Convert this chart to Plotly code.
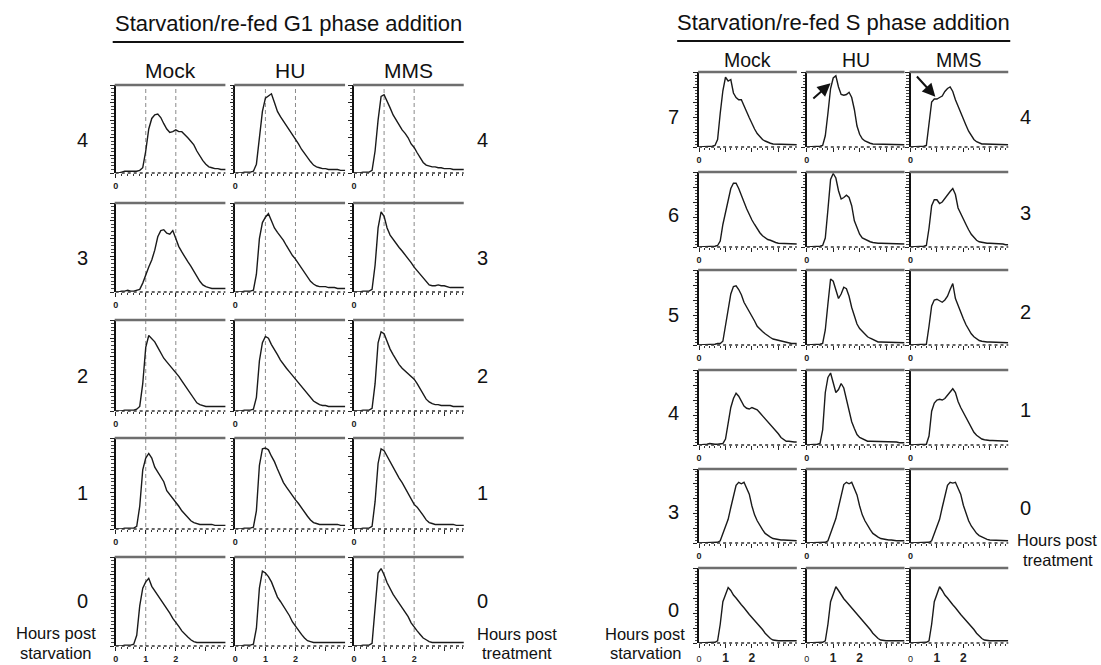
import plotly.graph_objects as go

# ---------------- data ----------------
# DNA-content axis (arbitrary units, 1 = G1 peak, 2 = G2 peak)
X_GRID = [0.0, 0.1, 0.2, 0.3, 0.4, 0.5, 0.6, 0.7, 0.8, 0.9,
          1.0, 1.1, 1.2, 1.3, 1.4, 1.5, 1.6, 1.7, 1.8, 1.9,
          2.0, 2.1, 2.2, 2.3, 2.4, 2.5, 2.6, 2.7, 2.8, 2.9,
          3.0, 3.1, 3.2, 3.3, 3.4, 3.5, 3.6, 3.7]

TREATMENTS = ["Mock", "HU", "MMS"]
G1_TITLE = "Starvation/re-fed G1 phase addition"
S_TITLE = "Starvation/re-fed S phase addition"
G1_HOURS_STARVATION = ["4", "3", "2", "1", "0"]
G1_HOURS_TREATMENT = ["4", "3", "2", "1", "0"]
S_HOURS_STARVATION = ["7", "6", "5", "4", "3", "0"]
S_HOURS_TREATMENT = ["4", "3", "2", "1", "0"]
X_TICK_VALUES = [0, 1, 2, 3]
X_TICK_LABELS = ["0", "1", "2", ""]

# G1 phase addition (cell counts, % of frame height)
g1_mock_4 = [0,0,1,2,2,2,2,2,3,6, 25,50,62,66,67,63,56,50,46,47, 49,47,47,44,40,36,32,25,19,14, 10,7,6,5,5,4,4,4]
g1_hu_4   = [0,0,0,1,1,1,2,10,40,70, 85,88,90,80,70,64,59,53,48,43, 38,33,27,22,17,13,9,7,6,5, 5,4,4,4,4,3,3,3]
g1_mms_4  = [0,0,0,1,1,1,3,25,60,87, 89,82,74,66,60,54,49,45,40,33, 29,23,18,12,9,8,7,7,6,6, 5,5,5,4,4,4,4,4]

g1_mock_3 = [0,0,1,1,2,1,1,2,3,10, 20,28,36,47,62,69,70,66,65,69, 60,51,45,39,34,29,23,17,12,8, 6,5,4,4,4,4,4,4]
g1_hu_3   = [0,0,0,1,1,1,2,20,60,78, 84,88,80,72,67,63,58,52,46,41, 37,32,26,21,16,12,9,7,6,6, 6,5,5,5,4,4,4,4]
g1_mms_3  = [0,0,0,1,1,1,3,30,72,90, 85,72,64,59,55,50,46,42,38,33, 28,24,19,15,11,8,7,7,8,7, 7,6,5,5,5,5,5,5]

g1_mock_2 = [0,0,0,1,1,1,1,2,5,30, 70,83,80,76,70,64,58,54,50,47, 43,38,33,28,23,18,13,9,7,6, 5,5,5,5,5,5,5,5]
g1_hu_2   = [0,0,0,1,1,1,2,15,55,75, 82,80,73,68,62,56,51,47,43,39, 35,31,26,22,18,14,11,9,7,6, 6,5,5,5,5,5,5,5]
g1_mms_2  = [0,0,0,1,1,1,3,30,75,87, 85,76,68,62,56,51,47,44,41,38, 35,30,24,18,13,10,8,7,7,6, 6,6,6,5,5,5,5,5]

g1_mock_1 = [0,0,0,1,1,1,1,3,25,65, 78,83,78,68,63,58,52,42,38,34, 29,25,20,16,12,9,7,6,5,5, 5,5,5,4,4,4,4,4]
g1_hu_1   = [0,0,0,1,1,1,2,20,70,88, 89,87,80,74,66,58,51,46,41,36, 32,28,23,18,14,10,7,6,5,5, 5,5,5,5,5,4,4,4]
g1_mms_1  = [0,0,0,1,1,1,3,30,72,88, 86,80,73,67,62,56,51,45,38,32, 27,24,20,15,10,7,6,5,5,5, 5,5,5,5,4,4,4,4]

g1_mock_0 = [0,0,0,1,1,1,2,12,45,65, 72,76,67,62,58,53,48,43,37,31, 27,22,17,13,10,7,5,4,4,4, 4,4,4,4,4,4,4,4]
g1_hu_0   = [0,0,0,1,1,1,2,20,65,84, 82,78,72,63,55,50,45,40,34,27, 22,17,13,9,6,5,4,4,4,4, 4,4,4,4,4,4,4,4]
g1_mms_0  = [0,0,0,1,1,1,3,45,82,87, 80,71,64,58,53,48,43,37,33,26, 21,17,13,9,7,5,4,4,4,4, 4,4,4,4,4,4,4,4]

# S phase addition
s_mock_7 = [0,0,1,1,1,1,2,10,45,75, 93,88,90,72,66,63,63,56,47,39, 31,24,18,14,10,8,6,5,4,4, 4,4,3,3,3,3,3,3]
s_hu_7   = [0,0,1,1,1,1,2,15,45,78, 92,95,80,70,69,70,73,66,50,28, 17,11,8,6,5,4,4,4,4,4, 4,3,3,3,3,3,3,3]
s_mms_7  = [0,0,1,1,1,1,2,30,60,64, 64,66,68,74,78,80,74,63,54,45, 37,29,21,15,10,7,5,4,4,4, 4,3,3,3,3,3,3,3]

s_mock_6 = [0,0,1,1,1,1,1,2,8,30, 47,65,78,85,85,78,70,60,51,43, 36,30,24,19,15,12,10,9,7,6, 5,5,5,4,4,4,4,4]
s_hu_6   = [0,0,1,1,1,1,2,12,50,90, 98,92,75,64,66,69,66,55,35,25, 17,12,10,8,7,6,5,5,5,5, 4,4,4,4,4,4,4,4]
s_mms_6  = [0,0,1,1,1,1,2,25,55,63, 63,58,60,65,70,74,78,70,52,44, 36,30,23,17,13,9,7,6,5,5, 5,5,4,4,4,4,3,3]

s_mock_5 = [0,0,1,1,1,1,1,2,2,5, 25,50,68,78,79,74,67,57,51,44, 38,32,25,21,18,15,12,10,8,7, 6,5,4,3,3,2,2,2]
s_hu_5   = [0,0,1,1,1,1,2,20,55,88, 85,72,62,68,77,75,65,50,40,28, 22,18,14,11,9,7,5,4,4,4, 4,4,4,3,3,3,3,3]
s_mms_5  = [0,0,1,1,1,1,1,25,52,60, 61,59,57,60,65,74,82,62,52,42, 35,27,20,15,11,8,6,5,4,4, 4,4,4,4,3,3,3,3]

s_mock_4 = [0,0,1,1,2,1,1,1,1,2, 8,30,50,62,69,65,58,52,49,48, 50,48,47,43,39,35,31,28,24,19, 15,10,7,5,5,4,4,4]
s_hu_4   = [0,0,1,1,1,2,20,70,90,96, 82,70,74,82,76,60,45,31,22,14, 10,8,6,5,5,5,4,4,4,4, 4,4,4,4,4,3,3,3]
s_mms_4  = [0,0,1,1,1,1,1,12,45,56, 60,61,60,62,66,70,75,70,58,50, 43,36,29,23,17,13,10,8,7,6, 6,6,6,6,5,5,5,5]

s_mock_3 = [0,0,1,1,1,1,1,1,3,12, 22,32,48,64,78,82,80,82,75,66, 50,38,30,23,18,13,10,8,6,5, 4,4,4,4,3,3,3,3]
s_hu_3   = [0,0,1,1,1,1,1,1,3,12, 23,33,49,65,79,82,80,82,74,65, 50,38,30,23,18,13,10,8,6,5, 4,4,4,3,3,3,3,3]
s_mms_3  = [0,0,1,1,1,1,1,1,3,12, 22,32,48,64,78,82,81,82,75,66, 51,39,30,23,18,13,10,8,6,5, 4,4,4,4,3,3,3,3]

s_mock_0 = [0,0,1,1,1,1,1,3,25,55, 66,74,70,64,60,55,51,47,42,38, 34,30,27,23,18,13,9,6,4,3, 3,3,3,3,3,3,3,3]
s_hu_0   = [0,0,1,1,1,1,1,3,25,55, 66,75,70,64,59,55,51,47,42,38, 34,30,27,23,18,13,9,6,4,3, 3,3,3,3,3,3,3,3]
s_mms_0  = [0,0,1,1,1,1,1,3,25,55, 66,75,70,64,60,55,51,47,42,38, 34,30,26,23,18,13,9,6,4,3, 3,3,3,3,3,3,3,3]

G1_CURVES = [
    [g1_mock_4, g1_hu_4, g1_mms_4],
    [g1_mock_3, g1_hu_3, g1_mms_3],
    [g1_mock_2, g1_hu_2, g1_mms_2],
    [g1_mock_1, g1_hu_1, g1_mms_1],
    [g1_mock_0, g1_hu_0, g1_mms_0],
]
S_CURVES = [
    [s_mock_7, s_hu_7, s_mms_7],
    [s_mock_6, s_hu_6, s_mms_6],
    [s_mock_5, s_hu_5, s_mms_5],
    [s_mock_4, s_hu_4, s_mms_4],
    [s_mock_3, s_hu_3, s_mms_3],
    [s_mock_0, s_hu_0, s_mms_0],
]

# ---------------- layout helpers (pixels of a 1101x665 page) ----------------
W, H = 1101, 665
FONT = "Liberation Sans, Arial, Helvetica, sans-serif"
INK = "#111111"


def px(x):
    return x / W


def py(y):
    return 1 - y / H


G1_COL_X = [113, 233, 352]
G1_COL_W = 110
G1_ROW_TOP = [85, 203, 320, 438, 557]
G1_ROW_BOT = [173, 292, 411, 529, 646]
G1_XMAX = 3.65

S_COL_X = [698, 806, 910]
S_COL_W = 98
S_ROW_TOP = [72, 172, 270, 370, 469, 568]
S_ROW_BOT = [147, 247, 345, 445, 543, 643]
S_XMAX = 3.7

fig = go.Figure()
layout = dict(
    width=W, height=H, margin=dict(l=0, r=0, t=0, b=0),
    paper_bgcolor="white", plot_bgcolor="rgba(0,0,0,0)",
    showlegend=False, font=dict(family=FONT, color=INK),
)
shapes = []
annotations = []
axis_counter = [0]


def ax_names(n):
    if n == 1:
        return "xaxis", "yaxis", "x", "y"
    return f"xaxis{n}", f"yaxis{n}", f"x{n}", f"y{n}"


def add_cell(x0, w, top, bot, xmax, curve, bottom_row, big_labels):
    axis_counter[0] += 1
    n = axis_counter[0]
    xa, ya, xr, yr = ax_names(n)
    if bottom_row:
        if big_labels:
            ttext = ["<span style='font-size:9px'>0</span>", "<b>1</b>", "<b>2</b>", ""]
        else:
            ttext = ["<b>0</b>", "<b>1</b>", "<b>2</b>", ""]
    else:
        ttext = ["<b>0</b>", "", "", ""]
    layout[xa] = dict(
        domain=[px(x0), px(x0 + w)], anchor=yr, range=[0, xmax],
        showgrid=False, zeroline=False, showline=False,
        ticks="outside", tickmode="array", tickvals=X_TICK_VALUES, ticktext=ttext,
        ticklen=4, tickwidth=1.3, tickcolor="#222",
        tickfont=dict(size=12 if (bottom_row and big_labels) else 9, color="#222", family=FONT),
        minor=dict(ticks="outside", tickmode="linear", tick0=0, dtick=0.2,
                   ticklen=2, tickwidth=1.3, tickcolor="#333"),
        fixedrange=True,
    )
    layout[ya] = dict(
        domain=[py(bot), py(top)], anchor=xr, range=[0, 100],
        showgrid=False, zeroline=False, showline=True, linecolor=INK, linewidth=1.6,
        ticks="outside", tickmode="array", tickvals=[0, 20, 40, 60, 80, 100],
        ticklen=4, tickwidth=1.3, tickcolor="#222", showticklabels=False,
        minor=dict(ticks="outside", tickmode="linear", tick0=0, dtick=4,
                   ticklen=2.5, tickwidth=1, tickcolor="#444"),
        fixedrange=True,
    )
    fig.add_trace(go.Scatter(
        x=X_GRID, y=curve, mode="lines", xaxis=xr, yaxis=yr,
        line=dict(color="#1a1a1a", width=1.4), hoverinfo="skip",
    ))
    # dotted baseline
    shapes.append(dict(type="line", xref="paper", yref="paper",
                       x0=px(x0), x1=px(x0 + w), y0=py(bot), y1=py(bot),
                       line=dict(color="#333", width=1.3, dash="dot")))
    # grey frame top
    shapes.append(dict(type="line", xref="paper", yref="paper",
                       x0=px(x0 - 1), x1=px(x0 + w), y0=py(top), y1=py(top),
                       line=dict(color="#6e6e6e", width=2.5)))
    return n


def text(x, y, s, size, xanchor="center"):
    annotations.append(dict(
        x=px(x), y=py(y), xref="paper", yref="paper", text=s, showarrow=False,
        xanchor=xanchor, yanchor="middle", font=dict(size=size, family=FONT, color=INK),
        borderpad=0,
    ))


# ---------------- G1 panel ----------------
g1_top_axes = []
for r, row in enumerate(G1_CURVES):
    for c, curve in enumerate(row):
        n = add_cell(G1_COL_X[c], G1_COL_W, G1_ROW_TOP[r], G1_ROW_BOT[r], G1_XMAX,
                     curve, r == len(G1_CURVES) - 1, False)
        if r == 0:
            g1_top_axes.append(n)

# dashed guide lines at the G1 (1) and G2 (2) positions
for n in g1_top_axes:
    xr = ax_names(n)[2]
    for v in (1, 2):
        shapes.append(dict(type="line", xref=xr, yref="paper", x0=v, x1=v,
                           y0=py(G1_ROW_BOT[-1]), y1=py(G1_ROW_TOP[0]), layer="below",
                           line=dict(color="#8a8a8a", width=1, dash="4px,3px")))

# ---------------- S panel ----------------
s_axes = {}
for r, row in enumerate(S_CURVES):
    for c, curve in enumerate(row):
        n = add_cell(S_COL_X[c], S_COL_W, S_ROW_TOP[r], S_ROW_BOT[r], S_XMAX,
                     curve, r == len(S_CURVES) - 1, True)
        s_axes[(r, c)] = n

# ---------------- titles, headers and labels ----------------
text(286, 24, G1_TITLE, 22)
shapes.append(dict(type="line", xref="paper", yref="paper", x0=px(110), x1=px(462),
                   y0=py(42), y1=py(42), line=dict(color=INK, width=2)))
text(843, 23, S_TITLE, 22)
shapes.append(dict(type="line", xref="paper", yref="paper", x0=px(676), x1=px(1010),
                   y0=py(41), y1=py(41), line=dict(color=INK, width=2)))

for c, name in enumerate(TREATMENTS):
    text(G1_COL_X[c] + G1_COL_W / 2, 70, name, 21)
    text(S_COL_X[c] + S_COL_W / 2, 60, name, 19.5)

G1_LABEL_Y = [140, 258, 376, 493, 601]
for lab, y in zip(G1_HOURS_STARVATION, G1_LABEL_Y):
    text(80, y, lab, 20)
for lab, y in zip(G1_HOURS_TREATMENT, G1_LABEL_Y):
    text(481, y, lab, 20)
text(53, 633, "Hours post", 16.5)
text(53, 653, "starvation", 16.5)
text(515, 634, "Hours post", 16.5)
text(515, 653, "treatment", 16.5)

S_LEFT_Y = [117, 215, 315, 413, 512, 610]
for lab, y in zip(S_HOURS_STARVATION, S_LEFT_Y):
    text(672, y, lab, 20)
S_RIGHT_Y = [117, 213, 312, 410, 508]
for lab, y in zip(S_HOURS_TREATMENT, S_RIGHT_Y):
    text(1025, y, lab, 20)
text(644, 634, "Hours post", 16.5)
text(645, 653, "starvation", 16.5)
text(1057, 540, "Hours post", 16.5)
text(1058, 560, "treatment", 16.5)

# arrows on the 7 h HU and MMS profiles
for (c, head, tail) in [(1, (0.9, 85), (0.19, 63)), (2, (0.94, 67), (0.19, 96))]:
    n = s_axes[(0, c)]
    _, _, xr, yr = ax_names(n)
    annotations.append(dict(
        x=head[0], y=head[1], xref=xr, yref=yr, ax=tail[0], ay=tail[1], axref=xr, ayref=yr,
        text="", showarrow=True, arrowhead=2, arrowsize=1.3, arrowwidth=2,
        arrowcolor=INK, standoff=0,
    ))

layout["shapes"] = shapes
layout["annotations"] = annotations
fig.update_layout(**layout)
fig.write_html("out.html")
